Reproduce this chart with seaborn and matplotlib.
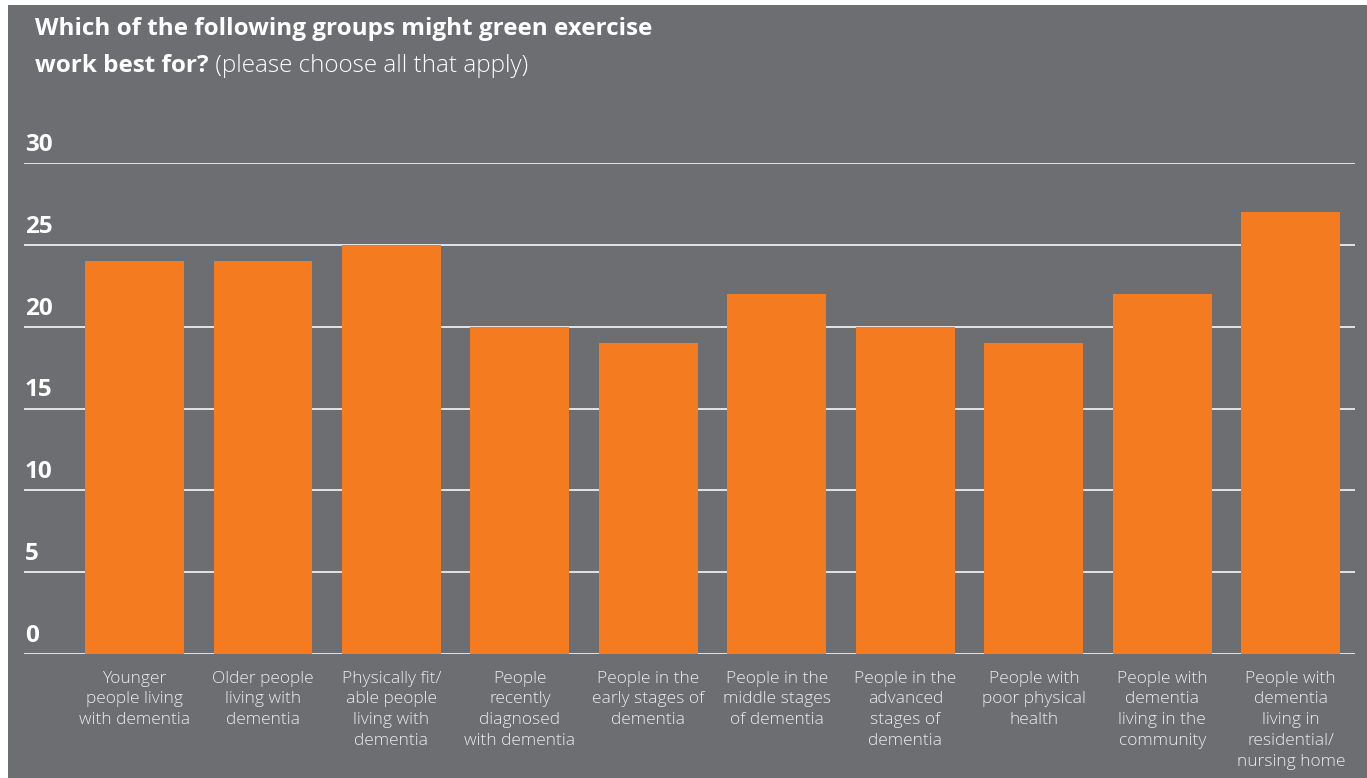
import matplotlib
matplotlib.use("Agg")
import matplotlib.pyplot as plt
import matplotlib.transforms as mtransforms
from matplotlib.patches import Rectangle
import pandas as pd
import seaborn as sns

# data
groups = [
    "Younger\npeople living\nwith dementia",
    "Older people\nliving with\ndementia",
    "Physically fit/\nable people\nliving with\ndementia",
    "People\nrecently\ndiagnosed\nwith dementia",
    "People in the\nearly stages of\ndementia",
    "People in the\nmiddle stages\nof dementia",
    "People in the\nadvanced\nstages of\ndementia",
    "People with\npoor physical\nhealth",
    "People with\ndementia\nliving in the\ncommunity",
    "People with\ndementia\nliving in\nresidential/\nnursing home",
]
counts = [24, 24, 25, 20, 19, 22, 20, 19, 22, 27]
y_ticks = [0, 5, 10, 15, 20, 25, 30]

bg = "#6d6e72"
orange = "#f47b20"
grid_col = "#e4e4e4"

sns.set_theme(style="white")
plt.rcParams["font.family"] = ["Open Sans", "DejaVu Sans"]

df = pd.DataFrame({"group": groups, "count": counts})

fig = plt.figure(figsize=(13.67, 7.78), dpi=100)
fig.patch.set_facecolor("white")
fig.patches.append(Rectangle((8 / 1367, 0), 1, 1 - 5 / 778,
                             transform=fig.transFigure, facecolor=bg,
                             edgecolor="none", zorder=-10))

ax = fig.add_axes([24 / 1367, (778 - 654) / 778, 1331 / 1367, (654 - 163) / 778])
ax.set_facecolor("none")

sns.barplot(data=df, x="group", y="count", color=orange, saturation=1,
            width=0.77, linewidth=0, ax=ax, zorder=3)

ax.set_xlim(-0.86, 9.5)
ax.set_ylim(0, 30)
ax.set_yticks(y_ticks)
ax.yaxis.grid(True, color=grid_col, linewidth=1.4)
ax.set_axisbelow(True)
ax.set_yticklabels([])
ax.tick_params(axis="y", length=0)
ax.tick_params(axis="x", length=0, pad=12, labelsize=12.5, labelcolor="#ececec")
for lab in ax.get_xticklabels():
    lab.set_fontweight("light")
    lab.set_linespacing(1.4)
for s in ax.spines.values():
    s.set_visible(False)
ax.set_xlabel("")
ax.set_ylabel("")

# y labels sit above each gridline, at the left edge
off = mtransforms.offset_copy(ax.get_yaxis_transform(), fig=fig, x=1, y=6, units="dots")
for v in y_ticks:
    ax.text(0, v, str(v), transform=off, ha="left", va="bottom",
            fontsize=17.5, fontweight="bold", color="white")

# title
t1 = fig.text(35 / 1367, 1 - 17 / 778, "Which of the following groups might green exercise",
              ha="left", va="top", fontsize=17.5, fontweight="bold", color="white")
t2 = fig.text(35 / 1367, 1 - 54 / 778, "work best for?",
              ha="left", va="top", fontsize=17.5, fontweight="bold", color="white")
fig.canvas.draw()
ax.annotate(" (please choose all that apply)", xy=(1, 0), xycoords=t2,
            ha="left", va="bottom", fontsize=17.5, fontweight="light", color="white")

fig.savefig("out.png", dpi=100, facecolor=fig.get_facecolor())
